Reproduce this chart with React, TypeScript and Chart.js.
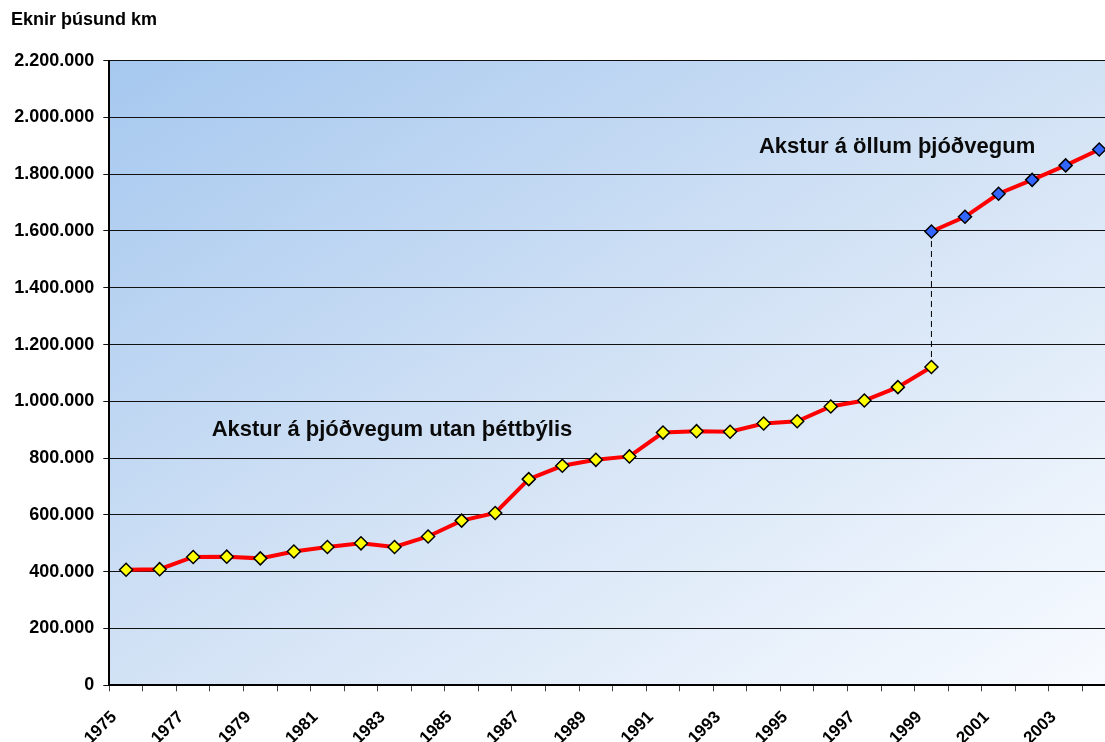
import React, { useEffect, useRef } from "react";
import { Chart, registerables } from "chart.js";

Chart.register(...registerables);

const years: string[] = [
  "1975", "1976", "1977", "1978", "1979", "1980", "1981", "1982", "1983", "1984",
  "1985", "1986", "1987", "1988", "1989", "1990", "1991", "1992", "1993", "1994",
  "1995", "1996", "1997", "1998", "1999", "2000", "2001", "2002", "2003", "2004",
];

// Akstur á þjóðvegum utan þéttbýlis (1975–1999)
const ruralValues: (number | null)[] = [
  407000, 409000, 452000, 453000, 447000, 471000, 487000, 500000, 487000, 524000,
  580000, 607000, 726000, 773000, 794000, 806000, 890000, 895000, 893000, 922000,
  930000, 982000, 1003000, 1050000, 1121000, null, null, null, null, null,
];

// Akstur á öllum þjóðvegum (1999–2004)
const allValues: (number | null)[] = [
  null, null, null, null, null, null, null, null, null, null,
  null, null, null, null, null, null, null, null, null, null,
  null, null, null, null, 1598000, 1650000, 1731000, 1780000, 1831000, 1887000,
];

const yTicks = { min: 0, max: 2200000, step: 200000 };

const titleText = "Eknir þúsund km";
const ruralLabel = "Akstur á þjóðvegum utan þéttbýlis";
const allLabel = "Akstur á öllum þjóðvegum";

const FONT = "'Liberation Sans', Arial, sans-serif";

function fmt(v: number): string {
  return String(Math.round(v)).replace(/\B(?=(\d{3})+(?!\d))/g, ".");
}

const bgPlugin = {
  id: "bgGradient",
  beforeDraw(chart: any) {
    const { ctx, chartArea } = chart;
    const { left, top, right, bottom } = chartArea;
    ctx.save();
    ctx.translate(left, top);
    ctx.scale(right - left, bottom - top);
    const g = ctx.createLinearGradient(0, 0, 1, 1);
    g.addColorStop(0, "#a6c8ef");
    g.addColorStop(0.5, "#d2e2f5");
    g.addColorStop(1, "#f8fbff");
    ctx.fillStyle = g;
    ctx.fillRect(0, 0, 1, 1);
    ctx.restore();
  },
};

const labelPlugin = {
  id: "seriesLabels",
  afterDatasetsDraw(chart: any) {
    const { ctx } = chart;
    const xs = chart.scales.x;
    const ys = chart.scales.y;
    ctx.save();
    ctx.fillStyle = "#0a0a0a";
    ctx.font = `bold 22px ${FONT}`;
    ctx.textAlign = "left";
    ctx.textBaseline = "alphabetic";
    ctx.fillText(ruralLabel, xs.getPixelForValue(2.55), ys.getPixelForValue(878000));
    ctx.fillText(allLabel, xs.getPixelForValue(18.86), ys.getPixelForValue(1874000));
    ctx.restore();
  },
};

export default function App() {
  const ref = useRef<HTMLCanvasElement | null>(null);

  useEffect(() => {
    if (!ref.current) return;
    Chart.defaults.font.family = FONT;
    const chart = new Chart(ref.current, {
      type: "line",
      data: {
        labels: years,
        datasets: [
          {
            label: ruralLabel,
            data: ruralValues,
            borderColor: "#ff0000",
            borderWidth: 4,
            pointStyle: "rectRot",
            pointRadius: 6.5,
            pointBackgroundColor: "#ffff00",
            pointBorderColor: "#000000",
            pointBorderWidth: 1.5,
            spanGaps: false,
            order: 1,
          },
          {
            label: allLabel,
            data: allValues,
            borderColor: "#ff0000",
            borderWidth: 4,
            pointStyle: "rectRot",
            pointRadius: 6.5,
            pointBackgroundColor: "#3366ff",
            pointBorderColor: "#000000",
            pointBorderWidth: 1.5,
            spanGaps: false,
            order: 1,
          },
          {
            label: "link",
            data: [
              { x: "1999", y: ruralValues[24] as number },
              { x: "1999", y: allValues[24] as number },
            ] as any,
            borderColor: "#000000",
            borderWidth: 1,
            borderDash: [6, 4],
            pointRadius: 0,
            order: 5,
          },
        ],
      },
      options: {
        animation: false,
        responsive: false,
        devicePixelRatio: 1,
        layout: { padding: { left: 11, right: 14, top: 0, bottom: 0 } },
        plugins: {
          legend: { display: false },
          tooltip: { enabled: false },
          title: {
            display: true,
            text: titleText,
            align: "start",
            color: "#000",
            font: { size: 18, weight: "bold", family: FONT },
            padding: { top: 9, bottom: 30 },
          },
        },
        scales: {
          x: {
            type: "category",
            offset: true,
            grid: {
              offset: true,
              drawOnChartArea: false,
              drawTicks: true,
              tickLength: 6,
              color: "#444",
            },
            border: { display: true, color: "#000", width: 2 },
            ticks: {
              autoSkip: false,
              maxRotation: 45,
              minRotation: 45,
              color: "#000",
              font: { size: 17, weight: "bold", family: FONT },
              padding: 16,
              labelOffset: -12,
              callback: (_v: any, i: number) => (i % 2 === 0 ? years[i] : ""),
            },
            afterFit: (s: any) => {
              s.height = 56.7;
            },
          },
          y: {
            min: yTicks.min,
            max: yTicks.max,
            grid: {
              color: "#111",
              lineWidth: 1,
              tickLength: 6,
              drawTicks: true,
            },
            border: { display: true, color: "#000", width: 2 },
            ticks: {
              stepSize: yTicks.step,
              color: "#000",
              padding: 9,
              font: { size: 18, weight: "bold", family: FONT },
              callback: (v: any) => fmt(Number(v)),
            },
            afterFit: (s: any) => {
              s.width = 98.3;
            },
          },
        },
      },
      plugins: [bgPlugin, labelPlugin],
    });
    return () => chart.destroy();
  }, []);

  return (
    <div
      style={{
        position: "fixed",
        left: 0,
        top: 0,
        width: 1105,
        height: 742,
        overflow: "hidden",
        background: "#ffffff",
      }}
    >
      <canvas ref={ref} width={1130} height={742} style={{ width: 1130, height: 742, display: "block" }} />
    </div>
  );
}
